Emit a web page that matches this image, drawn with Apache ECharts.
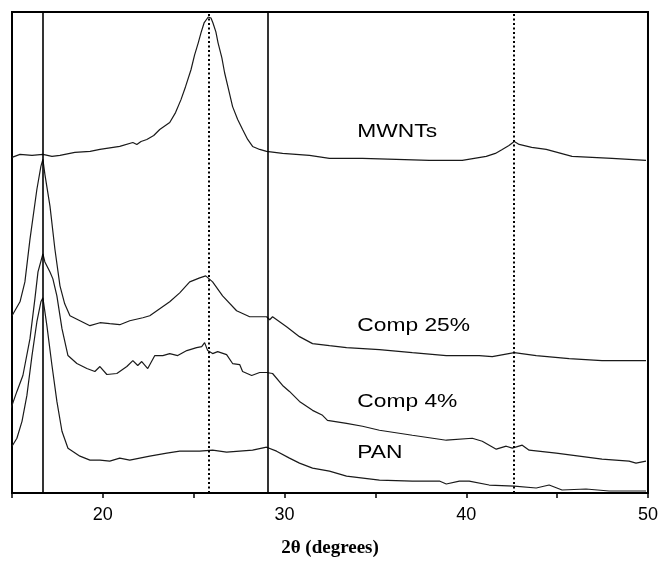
<!DOCTYPE html>
<html lang="en">
<head>
    <meta charset="utf-8">
    <title>XRD patterns</title>
    <script src="https://cdn.jsdelivr.net/npm/echarts@6/dist/echarts.min.js"></script>
</head>
<body style="margin:0;background:#fff">
    <div id="main" style="width: 661px;height:563px;"></div>
    <script>
    // 2theta (deg), intensity (a.u., curves are offset as in the figure)
    var mwnts = [[15.0,337],[15.44,340],[16.1,339],[16.7,340],[17.2,338],[17.64,339],[18.46,342],[19.3,343],[19.84,345],
        [20.93,348],[21.65,352],[21.87,350],[22.1,353],[22.42,355],[22.8,359],[23.13,365],[23.68,372],[24.0,382],
        [24.3,395],[24.55,408],[24.85,425],[25.05,440],[25.25,452],[25.4,462],[25.57,472],[25.8,478],[25.95,477],
        [26.06,472],[26.22,463],[26.34,452],[26.55,437],[26.7,422],[26.92,405],[27.14,388],[27.42,375],[27.69,365],
        [27.97,355],[28.24,348],[28.63,345],[29.01,343],[29.89,341],[31.37,339],[32.47,336],[34.29,336],[36.15,335],
        [37.97,334],[39.78,334],[41.1,338],[41.6,341],[41.98,345],[42.35,349],[42.64,353],[42.91,350],[43.6,347],
        [44.4,345],[45.82,338],[48.02,336],[49.89,334]];
    var comp25 = [[15.0,178],[15.44,192],[15.71,212],[15.99,255],[16.37,305],[16.59,328],[16.7,335],[16.81,320],
        [17.09,288],[17.36,245],[17.64,208],[17.9,190],[18.19,178],[18.74,173],[19.29,168],[19.84,171],[20.38,170],
        [20.93,169],[21.48,173],[22.2,176],[22.58,178],[23.13,185],[23.68,192],[24.23,201],[24.78,212],[25.33,216],
        [25.66,218],[26.04,212],[26.59,198],[27.36,183],[28.08,177],[29.01,177],[29.18,174],[29.34,177],[30.11,167],
        [30.82,157],[31.54,150],[32.47,148],[33.41,146],[35.22,144],[37.03,141],[38.9,138],[40.71,138],[41.43,137],
        [42.64,141],[43.85,138],[45.66,135],[47.47,133],[49.89,133]];
    var comp4 = [[14.73,77],[15.0,88],[15.27,102],[15.6,118],[15.99,155],[16.26,195],[16.43,222],[16.7,240],[16.81,232],
        [17.09,222],[17.25,215],[17.47,198],[17.75,165],[18.08,138],[18.57,130],[19.12,125],[19.56,122],[19.84,127],
        [20.22,119],[20.77,120],[21.32,127],[21.65,133],[21.92,128],[22.14,132],[22.47,125],[22.86,138],[23.3,138],
        [23.68,140],[24.12,138],[24.62,143],[25.16,146],[25.44,147],[25.6,151],[25.77,143],[26.04,140],[26.32,142],
        [26.81,139],[27.14,130],[27.53,129],[27.69,122],[28.19,118],[28.63,121],[29.01,121],[29.34,120],[29.89,108],
        [30.27,102],[30.82,92],[31.54,83],[32.09,78],[32.36,73],[33.41,70],[34.29,67],[35.22,63],[37.03,58],[38.9,53],
        [40.33,55],[40.88,52],[41.65,44],[42.2,47],[42.53,45],[43.08,48],[43.46,43],[44.95,40],[46.21,37],[47.47,34],
        [48.96,32],[49.34,30],[49.89,32]];
    var pan = [[15.0,47],[15.27,55],[15.55,72],[15.82,98],[16.1,138],[16.37,172],[16.59,192],[16.7,196],[16.92,168],
        [17.2,128],[17.47,92],[17.75,62],[18.08,45],[18.74,37],[19.29,33],[19.84,33],[20.38,32],[20.93,35],[21.48,33],
        [22.03,35],[22.58,37],[23.52,40],[24.23,42],[25.33,42],[26.04,43],[26.81,41],[27.53,42],[28.24,43],[29.01,46],
        [29.56,42],[30.27,35],[30.82,30],[31.54,25],[32.47,22],[33.41,17],[35.22,13],[37.03,12],[38.52,12],[38.9,9],
        [39.62,12],[40.16,12],[41.26,8],[42.64,7],[43.85,5],[44.56,8],[45.27,3],[46.59,4],[47.86,2],[49.89,2]];

    var solidLines = [16.7, 29.07];
    var dottedLines = [25.82, 42.64];
    var tickLabels = [20, 30, 40, 50];
    var labelNames = ['MWNTs', 'Comp 25%', 'Comp 4%', 'PAN'];
    var labelY = [363, 168, 92, 40];
    var labelX = 34.0;

    var myChart = echarts.init(document.getElementById('main'));

    var refLines = solidLines.map(function (v) {
        return {xAxis: v, lineStyle: {type: 'solid', width: 1.6, color: '#000'}};
    }).concat(dottedLines.map(function (v) {
        return {xAxis: v, lineStyle: {type: [2, 2.5], width: 2, color: '#000'}};
    }));

    function curve(name, data, extra) {
        var s = {
            name: name,
            type: 'line',
            data: data,
            symbol: 'none',
            silent: true,
            lineStyle: {color: '#1a1a1a', width: 1.2}
        };
        for (var k in extra) s[k] = extra[k];
        return s;
    }

    var option = {
        animation: false,
        grid: {
            left: 12, right: 12, top: 12, bottom: 68,
            show: true, borderColor: '#000', borderWidth: 2,
            backgroundColor: 'transparent'
        },
        xAxis: {
            type: 'value',
            min: 15, max: 50, interval: 5,
            name: '2\u03b8 (degrees)',
            nameLocation: 'middle',
            nameGap: 46,
            nameTextStyle: {fontFamily: 'Liberation Serif', fontWeight: 'bold', fontSize: 19, color: '#000'},
            axisLine: {lineStyle: {color: '#000', width: 2}},
            axisTick: {inside: false, length: 5, lineStyle: {color: '#000', width: 1.5}},
            axisLabel: {
                margin: 13,
                fontFamily: 'Liberation Sans', fontSize: 18, color: '#000',
                formatter: function (v) { return tickLabels.indexOf(v) >= 0 ? String(v) : ''; }
            },
            splitLine: {show: false}
        },
        yAxis: {
            type: 'value', min: 0, max: 483, show: false
        },
        series: [
            curve('MWNTs', mwnts, {}),
            curve('Comp 25%', comp25, {}),
            curve('Comp 4%', comp4, {clip: false}),
            curve('PAN', pan, {
                markLine: {silent: true, symbol: 'none', label: {show: false}, data: refLines}
            })
        ]
    };
    myChart.setOption(option);

    // curve labels, placed from data coordinates
    var texts = labelNames.map(function (t, i) {
        var p = myChart.convertToPixel({gridIndex: 0}, [labelX, labelY[i]]);
        return {
            type: 'text', x: p[0], y: p[1], scaleX: 1.2,
            style: {text: t, font: '19px "Liberation Sans"', fill: '#000', align: 'left', verticalAlign: 'middle'}
        };
    });
    myChart.setOption({graphic: texts});
    </script>
</body>
</html>
